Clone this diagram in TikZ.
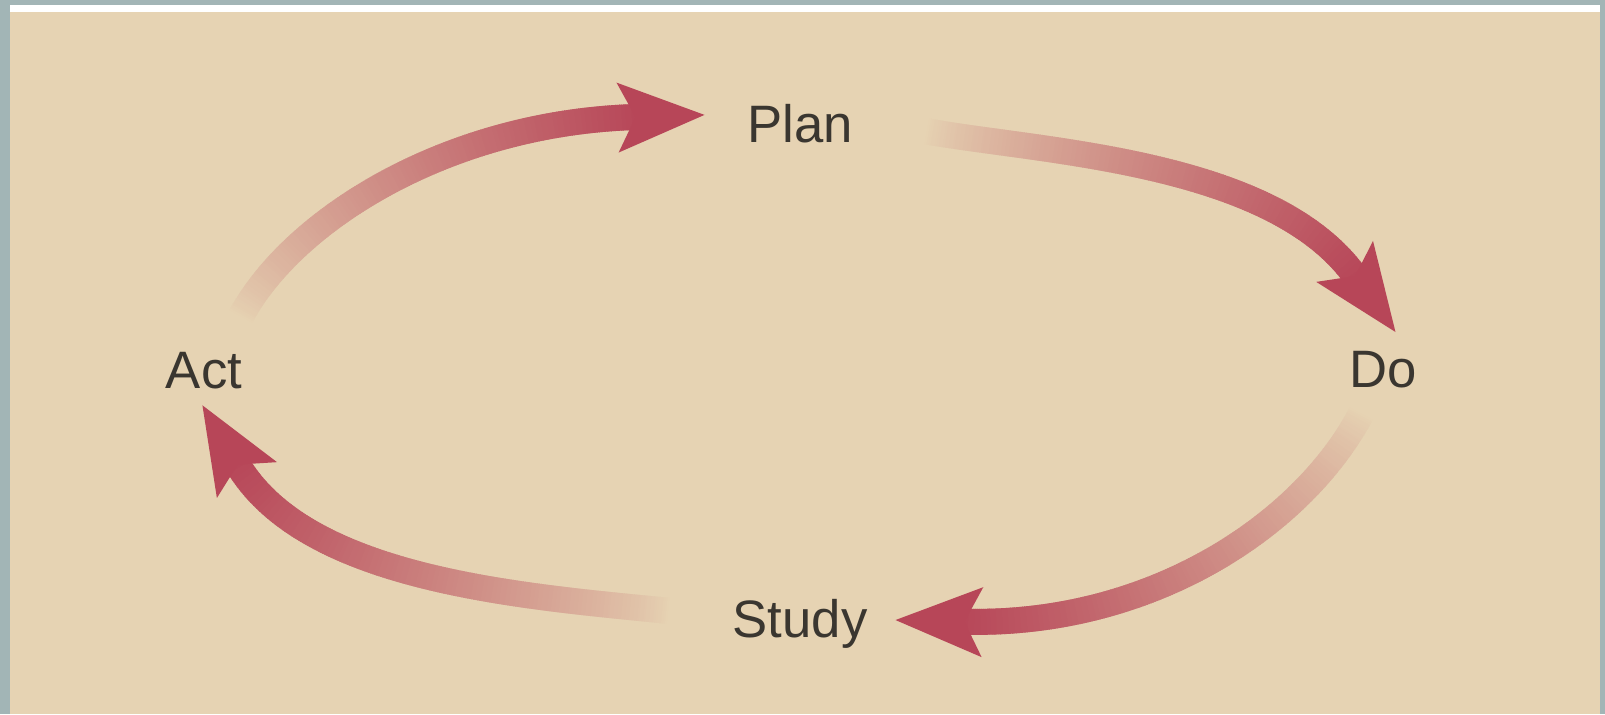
\documentclass[tikz,border=0pt]{standalone}
\usepackage{fontspec}
\setmainfont{Liberation Sans}
\usetikzlibrary{decorations.markings}
\definecolor{framegray}{HTML}{A2B5B6}
\definecolor{bgbeige}{HTML}{E6D3B3}
\definecolor{arrowred}{HTML}{B74658}
\definecolor{txtcol}{HTML}{3A3630}
\tikzset{
  lbl/.style={font=\fontsize{39.5}{46}\selectfont, text=txtcol, anchor=base, inner sep=0pt},
  fadearrow/.style={
    postaction={decorate, decoration={markings,
      mark=between positions 0 and 1 step 1.5pt with {
        \pgfmathtruncatemacro\pc{min(100,100*(\pgfkeysvalueof{/pgf/decoration/mark info/distance from start}/\pgfdecoratedpathlength+0.002)^0.8)}
        \draw[line width=19.5pt, draw=arrowred!\pc!bgbeige] (0,0) -- (2.3pt,0);
      }}},
    postaction={decorate, decoration={markings,
      mark=at position 0.999 with {
        \fill[arrowred] (0,0) -- (-13.5pt,26.25pt) -- (51.75pt,0) -- (-13.5pt,-26.25pt) -- cycle;
      }}}
  }
}
\begin{document}
\begin{tikzpicture}[x=0.75pt,y=-0.75pt]
  \useasboundingbox (0,0) rectangle (1605,714);
  % frame and background
  \fill[framegray] (0,0) rectangle (1605,714);
  \fill[white] (10,5) rectangle (1600,12);
  \fill[bgbeige] (10,12) rectangle (1600,714);

  % labels
  \node[lbl] (plan)  at (800,142) {Plan};
  \node[lbl] (do)    at (1383,387) {Do};
  \node[lbl] (act)   at (204,388) {Act};
  \node[lbl] (study) at (800,637) {Study};

  % arrow end points
  \coordinate (s1) at (240,318);  \coordinate (e1) at (636,117);
  \coordinate (s2) at (925,131);  \coordinate (e2) at (1355.4,276.4);
  \coordinate (s3) at (1362,412); \coordinate (e3) at (964,621.7);
  \coordinate (s4) at (670,611);  \coordinate (e4) at (237.5,464.2);

  % arrows (Act -> Plan -> Do -> Study -> Act)
  \path[fadearrow] (s1) .. controls (291,221) and (446,122.7) .. (e1);
  \path[fadearrow] (s2) .. controls (1040,152) and (1272,160) .. (e2);
  \path[fadearrow] (s3) .. controls (1305,522) and (1154,626.5) .. (e3);
  \path[fadearrow] (s4) .. controls (520,596) and (306,580) .. (e4);
\end{tikzpicture}
\end{document}
